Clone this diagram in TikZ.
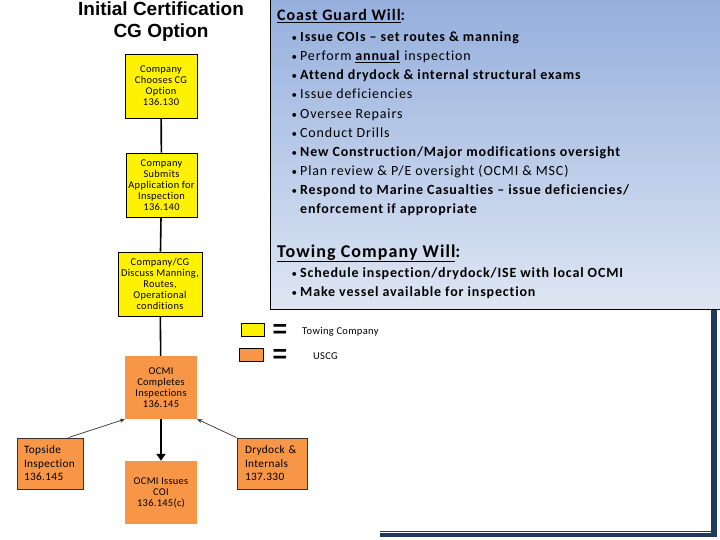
\documentclass[tikz,border=0pt]{standalone}
\usepackage{fontspec}
\setmainfont{Carlito}
\newfontfamily\arialf{Liberation Sans}
\newfontfamily\cgfont[LetterSpace=6, Ligatures=NoCommon]{Carlito}
\newfontfamily\boxfont[LetterSpace=3, Ligatures=NoCommon]{Carlito}
\usetikzlibrary{arrows.meta}
\definecolor{cgorange}{HTML}{F79646}
\definecolor{navyline}{HTML}{1F3A5F}
\definecolor{bluetop}{HTML}{95AFDD}
\definecolor{bluebot}{HTML}{DEE6F3}
\begin{document}
\begin{tikzpicture}[x=1pt,y=-1pt,
  flowbox/.style={align=center, inner sep=0pt, font=\boxfont\fontsize{10.4}{11}\selectfont},
  ybox/.style={flowbox, draw=black, line width=0.9pt, fill=yellow},
  obox/.style={flowbox, fill=cgorange},
  sidebox/.style={flowbox, draw=black!80, line width=0.9pt, fill=cgorange, align=left, font=\boxfont\fontsize{11.3}{13.5}\selectfont},
  flowline/.style={line width=1.6pt, black},
  thinarrow/.style={line width=0.7pt, black!80, -{Stealth[length=5pt,width=4pt]}},
  cgtext/.style={anchor=base west, inner sep=0pt, font=\cgfont\fontsize{14}{16}\selectfont},
  bul/.style={anchor=base west, inner sep=0pt, font=\fontsize{11}{16}\selectfont},
  head/.style={anchor=base west, inner sep=0pt}
]
\useasboundingbox (0,0) rectangle (720,540);
\fill[white] (0,0) rectangle (720,540);

% navy frame
\draw[navyline, line width=5.5pt] (714,305) -- (714,536.5);
\draw[navyline, line width=4pt] (380,534.7) -- (716.7,534.7);
\draw[navyline, line width=0.8pt] (380,531) -- (711,531);

% blue panel
\shade[top color=bluetop, bottom color=bluebot] (270,-1) rectangle (721,309);
\draw[black, line width=1pt] (721,-1) -- (270,-1) -- (270,309) -- (721,309);

% title
\node[font=\arialf\bfseries\fontsize{19}{22}\selectfont, align=center, inner sep=0pt] (title) at (161,21.5) {Initial Certification\\CG Option};

% flow boxes
\node[ybox, minimum width=72pt, minimum height=64pt] (b1) at (161,86) {Company\\Chooses CG\\Option\\136.130};
\node[ybox, minimum width=71pt, minimum height=64pt] (b2) at (161.5,185) {Company\\Submits\\Application for\\Inspection\\136.140};
\node[ybox, minimum width=84pt, minimum height=64pt] (b3) at (160,284) {Company/CG\\Discuss Manning,\\Routes,\\Operational\\conditions};
\node[obox, minimum width=72pt, minimum height=63pt] (b4) at (161,387.5) {OCMI\\Completes\\Inspections\\136.145};
\node[obox, minimum width=72pt, minimum height=63pt] (b5) at (161,492.5) {OCMI Issues\\COI\\136.145(c)};
\node[sidebox, minimum width=66pt, minimum height=51pt, text width=52pt] (top) at (50,463.5) {Topside\\Inspection\\136.145};
\node[sidebox, minimum width=70pt, minimum height=51pt, text width=54pt] (dd) at (272,463.5) {Drydock \&\\Internals\\137.330};

\draw[flowline] (b1) -- (b2);
\draw[flowline] (b2) -- (b3);
\draw[flowline] (b3) -- (b4);
\draw[line width=2.2pt, -{Triangle[length=7pt,width=9pt]}] (b4) -- (b5);
\draw[thinarrow] ([xshift=-15pt]top.north east) -- (b4.south west);
\draw[thinarrow] (dd.north west) -- (b4.south east);

% legend
\node[draw=black, line width=0.6pt, fill=yellow, minimum width=23pt, minimum height=13pt, inner sep=0pt] (ly) at (252.5,329.5) {};
\node[draw=black, line width=0.6pt, fill=cgorange, minimum width=24pt, minimum height=13pt, inner sep=0pt] (lo) at (251,355) {};
\node[font=\arialf\bfseries\fontsize{25}{25}\selectfont, inner sep=0pt] (eq1) at (280,331) {=};
\node[font=\arialf\bfseries\fontsize{25}{25}\selectfont, inner sep=0pt] (eq2) at (280,356) {=};
\node[anchor=west, inner sep=0pt, font=\boxfont\fontsize{10.5}{12}\selectfont] (lt1) at (302,332) {Towing Company};
\node[anchor=west, inner sep=0pt, font=\boxfont\fontsize{10.5}{12}\selectfont] (lt2) at (313,356) {USCG};

% Coast Guard text
\node[head, font=\cgfont\bfseries\fontsize{16}{18}\selectfont] (cgh) at (277,21) {\underline{Coast Guard Will}:};
\foreach \yy in {42,61,80,99,118.5,138,157,176,195}{
  \node[bul] at (291.5,\yy) {•};
}
\node[cgtext] (c1) at (300,42) {\bfseries Issue COIs – set routes \& manning};
\node[cgtext] (c2) at (300,61) {Perform \underline{\textbf{annual}} inspection};
\node[cgtext] (c3) at (300,80) {\bfseries Attend drydock \& internal structural exams};
\node[cgtext] (c4) at (300,99) {Issue deficiencies};
\node[cgtext] (c5) at (300,118.5) {Oversee Repairs};
\node[cgtext] (c6) at (300,138) {Conduct Drills};
\node[cgtext] (c7) at (300,157) {\bfseries New Construction/Major modifications oversight};
\node[cgtext] (c8) at (300,176) {Plan review \& P/E oversight (OCMI \& MSC)};
\node[cgtext] (c9) at (300,195) {\bfseries Respond to Marine Casualties – issue deficiencies/};
\node[cgtext] (c10) at (300,214) {\bfseries enforcement if appropriate};

% Towing Company text
\node[head, font=\cgfont\bfseries\fontsize{18}{20}\selectfont] (twh) at (277,257) {\underline{Towing Company Will}:};
\node[bul] at (291.5,277) {•};
\node[bul] at (291.5,296.5) {•};
\node[cgtext] (t1) at (300,277) {\bfseries Schedule inspection/drydock/ISE with local OCMI};
\node[cgtext] (t2) at (300,296.5) {\bfseries Make vessel available for inspection};
\end{tikzpicture}
\end{document}
